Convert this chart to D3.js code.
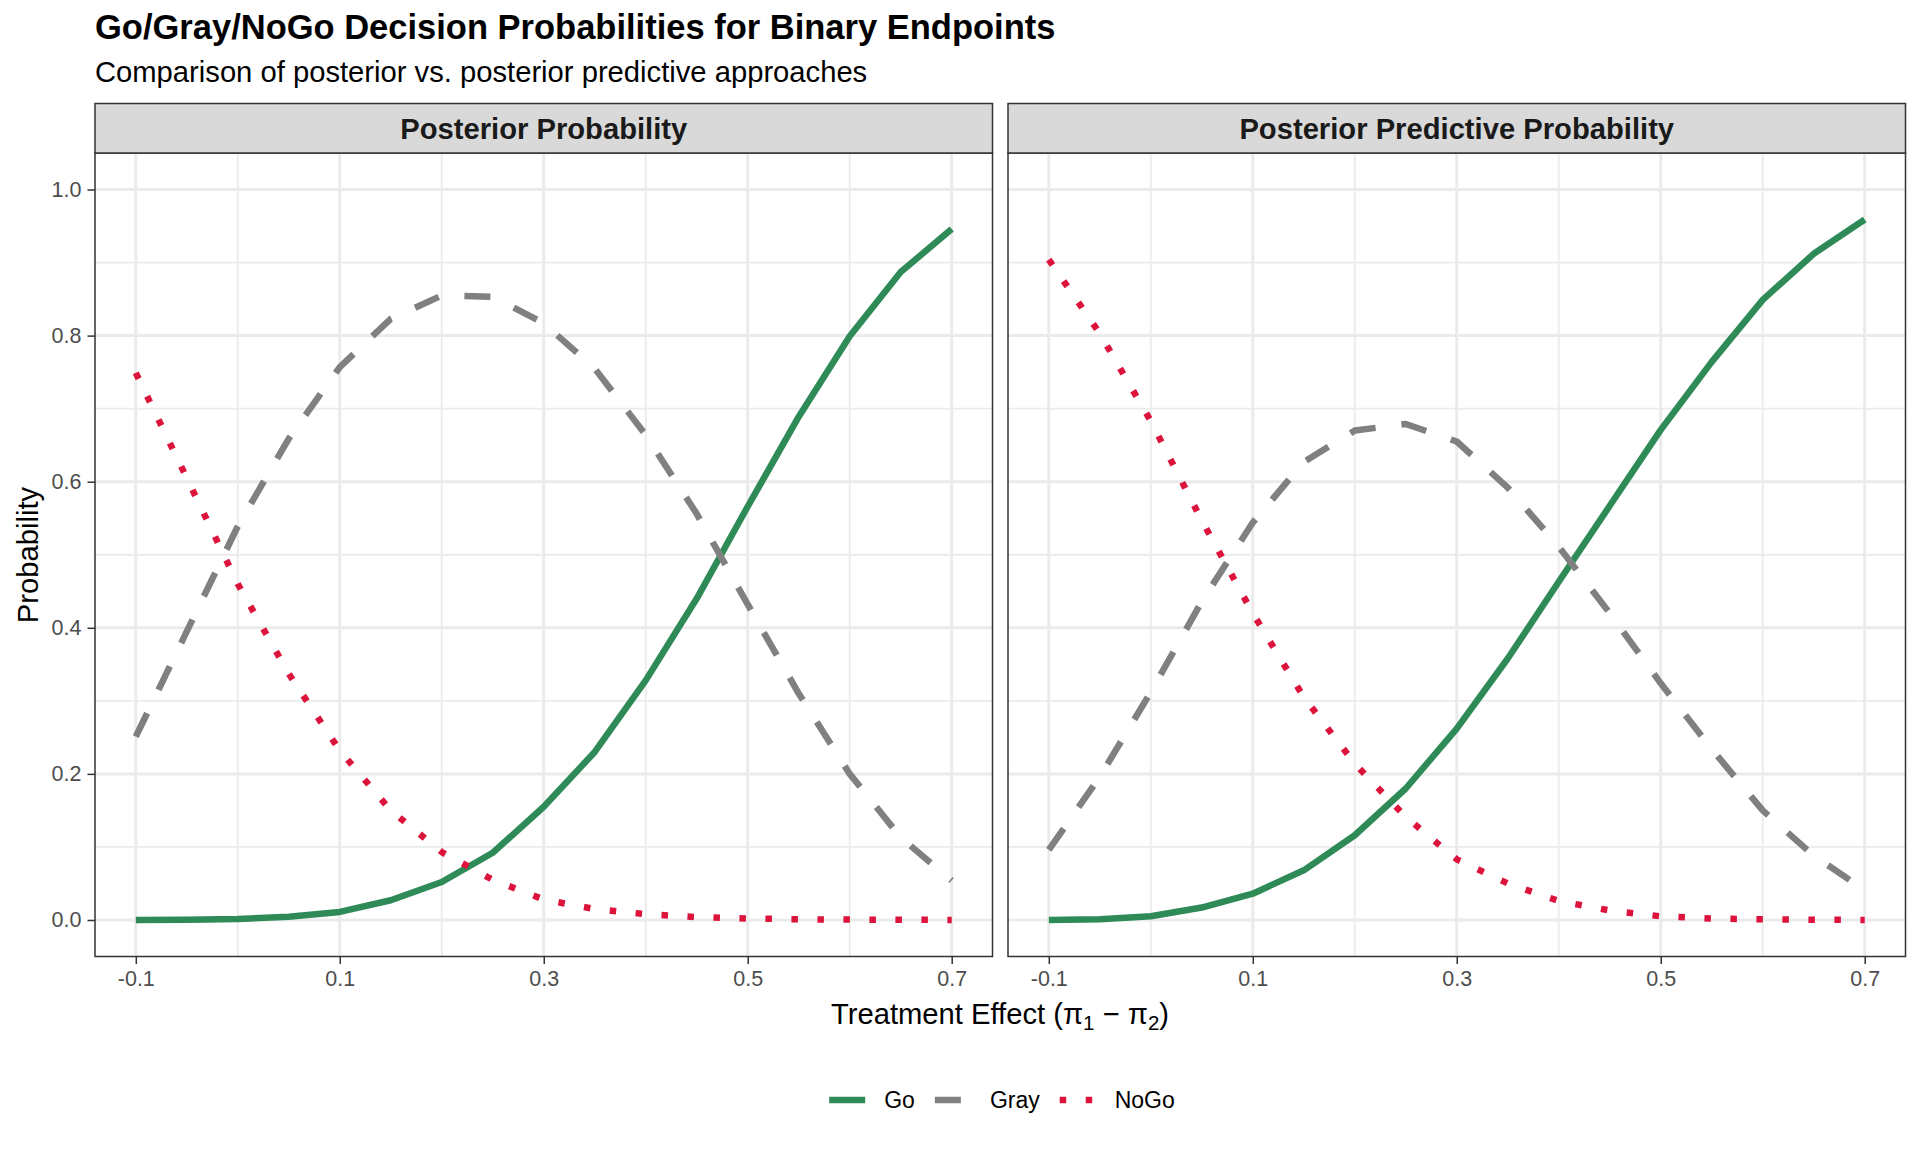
<!DOCTYPE html>
<html>
<head>
<meta charset="utf-8">
<script src="https://cdn.jsdelivr.net/npm/d3@7"></script>
<style>
  html, body { margin: 0; padding: 0; background: #fff; }
  svg { display: block; font-family: "Liberation Sans", Arial, sans-serif; }
</style>
</head>
<body>
<svg id="chart" width="1920" height="1152"></svg>
<script>
// ---------------- data ----------------
const effects = [-0.1, -0.05, 0, 0.05, 0.1, 0.15, 0.2, 0.25, 0.3, 0.35, 0.4, 0.45, 0.5, 0.55, 0.6, 0.65, 0.7];

const goPosterior   = [0.000, 0.0003, 0.0014, 0.0045, 0.011, 0.027, 0.052, 0.092, 0.155, 0.230, 0.328, 0.440, 0.566, 0.689, 0.799, 0.887, 0.946];
const grayPosterior = [0.251, 0.395, 0.539, 0.659, 0.757, 0.823, 0.855, 0.853, 0.817, 0.755, 0.664, 0.556, 0.432, 0.310, 0.200, 0.113, 0.054];
const nogoPosterior = [0.749, 0.605, 0.460, 0.337, 0.232, 0.150, 0.093, 0.055, 0.028, 0.015, 0.008, 0.004, 0.002, 0.001, 0.0005, 0.0002, 0.0001];

const goPredictive   = [0.000, 0.001, 0.005, 0.017, 0.036, 0.068, 0.116, 0.180, 0.262, 0.358, 0.463, 0.567, 0.671, 0.764, 0.849, 0.912, 0.959];
const grayPredictive = [0.096, 0.196, 0.312, 0.436, 0.544, 0.627, 0.670, 0.679, 0.655, 0.592, 0.511, 0.420, 0.324, 0.234, 0.150, 0.088, 0.041];
const nogoPredictive = [0.904, 0.803, 0.683, 0.547, 0.420, 0.305, 0.214, 0.141, 0.083, 0.050, 0.026, 0.013, 0.005, 0.002, 0.001, 0.0003, 0.0001];

const panelTitles = ["Posterior Probability", "Posterior Predictive Probability"];
const seriesNames = ["Go", "Gray", "NoGo"];
const xTicks = [-0.1, 0.1, 0.3, 0.5, 0.7];
const xTickLabels = ["-0.1", "0.1", "0.3", "0.5", "0.7"];
const xMinor = [0, 0.2, 0.4, 0.6];
const yTicks = [0, 0.2, 0.4, 0.6, 0.8, 1.0];
const yTickLabels = ["0.0", "0.2", "0.4", "0.6", "0.8", "1.0"];
const yMinor = [0.1, 0.3, 0.5, 0.7, 0.9];

const titleText = "Go/Gray/NoGo Decision Probabilities for Binary Endpoints";
const subtitleText = "Comparison of posterior vs. posterior predictive approaches";

// ---------------- styles ----------------
const colors = { Go: "#2E8B57", Gray: "#808080", NoGo: "#DC143C" };
const LW = 6.5;
const dashes = { Go: null, Gray: `${4*LW},${4*LW}`, NoGo: `${LW},${3*LW}` };
const tickFont = 21.5;

const panels = [
  { title: panelTitles[0], series: { Go: goPosterior, Gray: grayPosterior, NoGo: nogoPosterior }, x0: 95, x1: 992.5 },
  { title: panelTitles[1], series: { Go: goPredictive, Gray: grayPredictive, NoGo: nogoPredictive }, x0: 1008, x1: 1905.5 }
];

const stripTop = 103.5, stripBottom = 153, panelBottom = 956.5;

const svg = d3.select("#chart");

// title & subtitle
svg.append("text").attr("x", 95).attr("y", 39)
  .attr("font-size", 34.5).attr("font-weight", "bold").attr("fill", "#000").text(titleText);
svg.append("text").attr("x", 95).attr("y", 82)
  .attr("font-size", 29.2).attr("fill", "#000").text(subtitleText);

const yScale = d3.scaleLinear().domain([-0.05, 1.05]).range([panelBottom, stripBottom]);

panels.forEach((p, pi) => {
  const xScale = d3.scaleLinear().domain([-0.14, 0.74]).range([p.x0, p.x1]);
  const g = svg.append("g");

  g.append("rect").attr("x", p.x0).attr("y", stripBottom).attr("width", p.x1 - p.x0).attr("height", panelBottom - stripBottom).attr("fill", "#fff");

  // minor grid
  g.selectAll(".ymin").data(yMinor).join("line")
    .attr("x1", p.x0).attr("x2", p.x1).attr("y1", d => yScale(d)).attr("y2", d => yScale(d))
    .attr("stroke", "#EBEBEB").attr("stroke-width", 1.8);
  g.selectAll(".xmin").data(xMinor).join("line")
    .attr("y1", stripBottom).attr("y2", panelBottom).attr("x1", d => xScale(d)).attr("x2", d => xScale(d))
    .attr("stroke", "#EBEBEB").attr("stroke-width", 1.8);
  // major grid
  g.selectAll(".ymaj").data(yTicks).join("line")
    .attr("x1", p.x0).attr("x2", p.x1).attr("y1", d => yScale(d)).attr("y2", d => yScale(d))
    .attr("stroke", "#EBEBEB").attr("stroke-width", 3);
  g.selectAll(".xmaj").data(xTicks).join("line")
    .attr("y1", stripBottom).attr("y2", panelBottom).attr("x1", d => xScale(d)).attr("x2", d => xScale(d))
    .attr("stroke", "#EBEBEB").attr("stroke-width", 3);

  // lines
  const clipId = "clip" + pi;
  svg.append("clipPath").attr("id", clipId).append("rect")
    .attr("x", p.x0).attr("y", stripBottom).attr("width", p.x1 - p.x0).attr("height", panelBottom - stripBottom);
  const line = d3.line().x((d, i) => xScale(effects[i])).y(d => yScale(d));
  seriesNames.forEach(name => {
    g.append("path").datum(p.series[name])
      .attr("d", line)
      .attr("fill", "none")
      .attr("stroke", colors[name])
      .attr("stroke-width", LW)
      .attr("stroke-linejoin", "round")
      .attr("stroke-linecap", "butt")
      .attr("stroke-dasharray", dashes[name])
      .attr("clip-path", `url(#${clipId})`);
  });

  // panel border
  g.append("rect").attr("x", p.x0).attr("y", stripBottom).attr("width", p.x1 - p.x0).attr("height", panelBottom - stripBottom)
    .attr("fill", "none").attr("stroke", "#333333").attr("stroke-width", 1.5);

  // strip
  g.append("rect").attr("x", p.x0).attr("y", stripTop).attr("width", p.x1 - p.x0).attr("height", stripBottom - stripTop)
    .attr("fill", "#D9D9D9").attr("stroke", "#333333").attr("stroke-width", 1.5);
  g.append("text").attr("x", (p.x0 + p.x1) / 2).attr("y", (stripTop + stripBottom) / 2 + 1)
    .attr("text-anchor", "middle").attr("dominant-baseline", "central")
    .attr("font-size", 29.2).attr("font-weight", "bold").attr("fill", "#1A1A1A").text(p.title);

  // x axis
  const xAxis = d3.axisBottom(xScale).tickValues(xTicks).tickFormat((d, i) => xTickLabels[i]).tickSizeInner(7.5).tickSizeOuter(0).tickPadding(6.5);
  const xa = g.append("g").attr("transform", `translate(0,${panelBottom})`).call(xAxis);
  xa.select(".domain").remove();
  xa.selectAll(".tick line").attr("stroke", "#333333").attr("stroke-width", 1.5);
  xa.selectAll(".tick text").attr("fill", "#4D4D4D").attr("font-size", tickFont).attr("font-family", "Liberation Sans, Arial, sans-serif");

  // y axis (only first panel)
  if (pi === 0) {
    const yAxis = d3.axisLeft(yScale).tickValues(yTicks).tickFormat((d, i) => yTickLabels[i]).tickSizeInner(7.5).tickSizeOuter(0).tickPadding(6);
    const ya = g.append("g").attr("transform", `translate(${p.x0},0)`).call(yAxis);
    ya.select(".domain").remove();
    ya.selectAll(".tick line").attr("stroke", "#333333").attr("stroke-width", 1.5);
    ya.selectAll(".tick text").attr("fill", "#4D4D4D").attr("font-size", tickFont).attr("font-family", "Liberation Sans, Arial, sans-serif");
  }
});

// axis titles
const xt = svg.append("text").attr("x", 1000).attr("y", 1023.5).attr("text-anchor", "middle")
  .attr("font-size", 29.2).attr("fill", "#000");
xt.append("tspan").text("Treatment Effect (π");
xt.append("tspan").attr("font-size", 20.5).attr("dy", 6).text("1");
xt.append("tspan").attr("dy", -6).text(" − π");
xt.append("tspan").attr("font-size", 20.5).attr("dy", 6).text("2");
xt.append("tspan").attr("dy", -6).text(")");

svg.append("text").attr("transform", "translate(38,555) rotate(-90)").attr("text-anchor", "middle")
  .attr("font-size", 29.2).attr("fill", "#000").text("Probability");

// legend
const legend = svg.append("g");
const keyW = 36, legY = 1100, fs = 23;
const items = [];
seriesNames.forEach((name) => {
  const it = legend.append("g");
  it.append("line").attr("x1", 0).attr("x2", keyW).attr("y1", 0).attr("y2", 0)
    .attr("stroke", colors[name]).attr("stroke-width", LW).attr("stroke-linecap", "butt")
    .attr("stroke-dasharray", dashes[name]);
  const t = it.append("text").attr("x", keyW + 19).attr("y", 0).attr("dominant-baseline", "central")
    .attr("font-size", fs).attr("fill", "#000").text(name);
  const w = keyW + 19 + t.node().getComputedTextLength();
  items.push({ it, w });
});
const gapItems = 20;
const totalW = d3.sum(items, d => d.w) + gapItems * (items.length - 1);
let start = 1002 - totalW / 2;
items.forEach(d => {
  d.it.attr("transform", `translate(${start},${legY})`);
  start += d.w + gapItems;
});
</script>
</body>
</html>
